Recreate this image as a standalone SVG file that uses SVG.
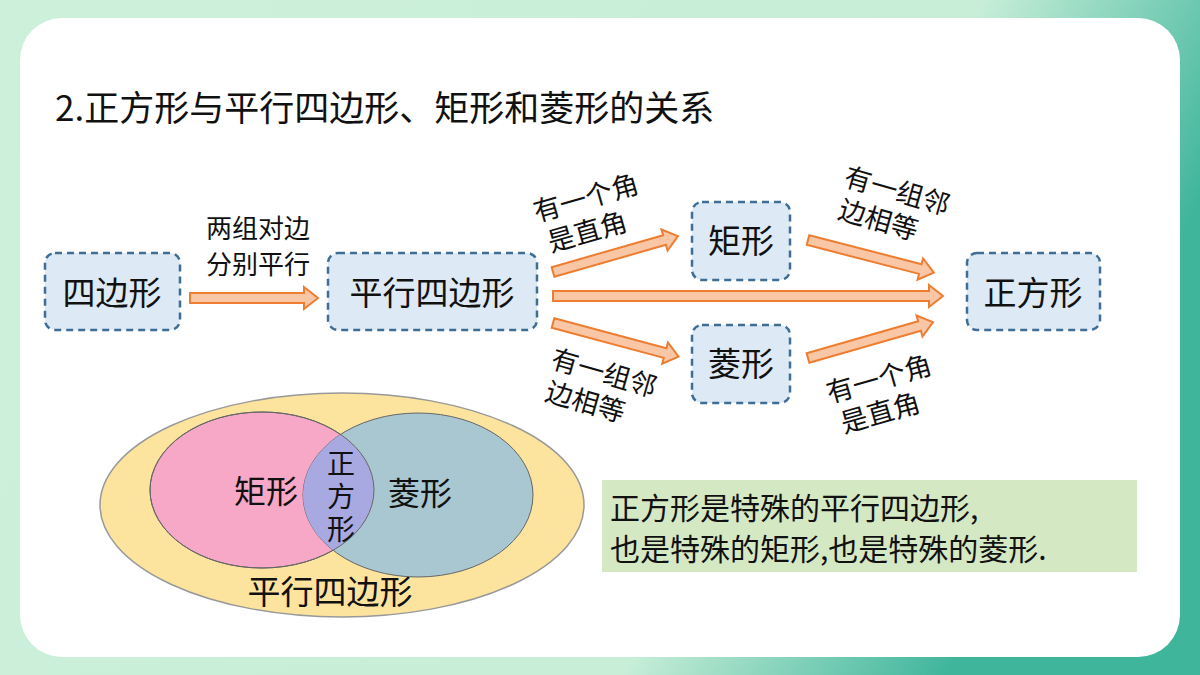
<svg xmlns="http://www.w3.org/2000/svg" width="1200" height="675" viewBox="0 0 1200 675">
<defs>
<linearGradient id="bg" x1="0" y1="0" x2="1" y2="0.3"><stop offset="0" stop-color="#cdf0da"/><stop offset="0.75" stop-color="#c8eed8"/><stop offset="1" stop-color="#3fb59c"/></linearGradient>
<clipPath id="cp"><ellipse cx="262" cy="490" rx="112" ry="78"/></clipPath>
</defs>
<style>
.t{font-family:"Noto Sans CJK SC","Liberation Sans",sans-serif;fill:#111}
.box{fill:#dde9f5;stroke:#3e6e96;stroke-width:2.5;stroke-dasharray:7 5}
.ar{fill:#f9c6a6;stroke:#ed7d31;stroke-width:2}
</style>
<rect width="1200" height="675" fill="url(#bg)"/>
<rect x="20" y="18" width="1160" height="639" rx="42" fill="#fff"/>
<text class="t" x="55" y="121" font-size="35">2.正方形与平行四边形、矩形和菱形的关系</text>
<g id="connectors">
<path class="ar" d="M190,293 L304,293 L304,287 L318,298 L304,309 L304,303 L190,303 Z"/>
<path class="ar" d="M553,291 L929,291 L929,285 L943,296 L929,307 L929,301 L553,301 Z"/>
<g transform="translate(553,272) rotate(-16)"><path class="ar" d="M0,-5 L116,-5 L116,-11 L130,0 L116,11 L116,5 L0,5 Z"/></g>
<g transform="translate(553,323) rotate(15)"><path class="ar" d="M0,-5 L116,-5 L116,-11 L130,0 L116,11 L116,5 L0,5 Z"/></g>
<g transform="translate(808,240) rotate(14.5)"><path class="ar" d="M0,-5 L116,-5 L116,-11 L130,0 L116,11 L116,5 L0,5 Z"/></g>
<g transform="translate(808,358) rotate(-16)"><path class="ar" d="M0,-5 L116,-5 L116,-11 L130,0 L116,11 L116,5 L0,5 Z"/></g>
</g>
<text class="t" font-size="26" x="258" y="238" text-anchor="middle">两组对边</text>
<text class="t" font-size="26" x="258" y="274" text-anchor="middle">分别平行</text>
<g transform="translate(590,212) rotate(-16)" font-size="27" text-anchor="middle"><text class="t" y="-5">有一个角</text><text class="t" x="-8" y="28">是直角</text></g>
<g transform="translate(893,205) rotate(16)" font-size="27" text-anchor="middle"><text class="t" y="-5">有一组邻</text><text class="t" x="-10" y="28">边相等</text></g>
<g transform="translate(600,387) rotate(16)" font-size="27" text-anchor="middle"><text class="t" y="-5">有一组邻</text><text class="t" x="-10" y="28">边相等</text></g>
<g transform="translate(883,393) rotate(-16)" font-size="27" text-anchor="middle"><text class="t" y="-5">有一个角</text><text class="t" x="-8" y="28">是直角</text></g>
<g id="n1"><rect class="box" x="45" y="253" width="135" height="77" rx="10"/><text class="t" x="112" y="305" font-size="33" text-anchor="middle">四边形</text></g>
<g id="n2"><rect class="box" x="328" y="253" width="209" height="77" rx="10"/><text class="t" x="432" y="305" font-size="33" text-anchor="middle">平行四边形</text></g>
<g id="n3"><rect class="box" x="692" y="202" width="98" height="78" rx="10"/><text class="t" x="741" y="253" font-size="33" text-anchor="middle">矩形</text></g>
<g id="n4"><rect class="box" x="692" y="325" width="98" height="78" rx="10"/><text class="t" x="741" y="376" font-size="33" text-anchor="middle">菱形</text></g>
<g id="n5"><rect class="box" x="967" y="253" width="133" height="77" rx="10"/><text class="t" x="1033" y="305" font-size="33" text-anchor="middle">正方形</text></g>
<g id="venn">
<ellipse cx="342" cy="505" rx="242" ry="112" fill="#fde49e" stroke="#999" stroke-width="1.5"/>
<ellipse cx="262" cy="490" rx="112" ry="78" fill="#f7a8c6" stroke="#666" stroke-width="1"/>
<ellipse cx="418" cy="495" rx="115" ry="82" fill="#a8c7d0" stroke="#666" stroke-width="1"/>
<ellipse cx="418" cy="495" rx="115" ry="82" fill="#a9a9e2" clip-path="url(#cp)"/>
<ellipse cx="262" cy="490" rx="112" ry="78" fill="none" stroke="#666" stroke-width="1"/>
<text class="t" x="266" y="503" font-size="32" text-anchor="middle">矩形</text>
<text class="t" x="420" y="505" font-size="32" text-anchor="middle">菱形</text>
<text class="t" x="341" y="474" font-size="28" text-anchor="middle">正</text>
<text class="t" x="341" y="507" font-size="28" text-anchor="middle">方</text>
<text class="t" x="341" y="540" font-size="28" text-anchor="middle">形</text>
<text class="t" x="330" y="604" font-size="33" text-anchor="middle">平行四边形</text>
</g>
<g id="note"><rect x="602" y="480" width="535" height="92" fill="#d5e8c4"/>
<text class="t" x="610" y="519" font-size="30">正方形是特殊的平行四边形,</text>
<text class="t" x="610" y="560" font-size="30">也是特殊的矩形,也是特殊的菱形.</text></g>
</svg>
